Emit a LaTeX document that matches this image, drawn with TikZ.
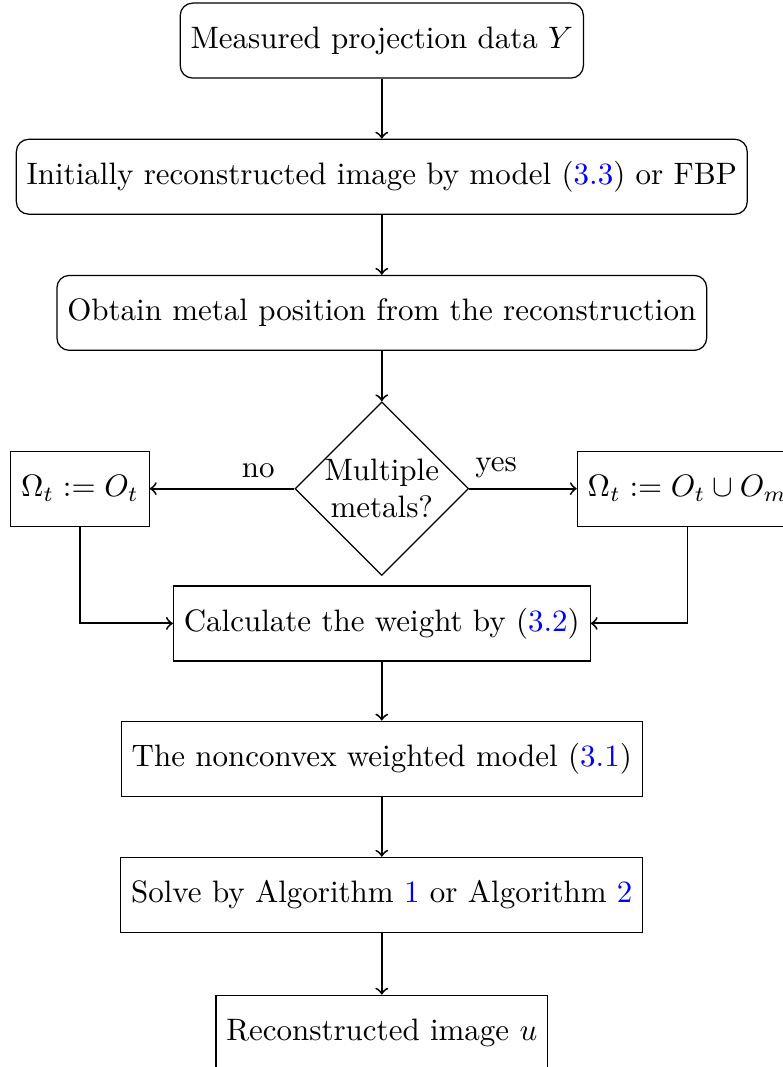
\documentclass[tikz,border=0pt]{standalone}
\usepackage{amsmath,amssymb}
\usepackage{color}
\usepackage{tikz}
\usetikzlibrary{shapes.geometric,positioning}

\begin{document}
\begin{tikzpicture}
	\tikzset{roundbox/.style={draw,thin,rectangle,rounded corners=4pt,minimum height=0.85cm}}
	\tikzset{sqbox/.style={draw,thin,rectangle,minimum height=0.85cm}}
	\tikzset{decision/.style={draw,thin,diamond,aspect=1,inner sep=0pt,align=center}}
	\tikzset{line/.style={draw,semithick,->}}
	% main column
	\node[roundbox] (measured) at (0,0) {Measured projection data $Y$};
	\node[roundbox,below=0.68cm of measured] (initial) {Initially reconstructed image by model (\textcolor{blue}{3.3}) or FBP};
	\node[roundbox,below=0.68cm of initial] (position) {Obtain metal position from the reconstruction};
	\node[decision,below=0.57cm of position] (multiple) {Multiple\\metals?};
	\node[sqbox,left=1.64cm of multiple] (omegaO) {$\Omega_t := O_t$};
	\node[sqbox,right=1.22cm of multiple] (omegaOm) {$\Omega_t := O_t\cup O_m$};
	\node[sqbox,below=0.105cm of multiple] (weight) {Calculate the weight by (\textcolor{blue}{3.2})};
	\node[sqbox,below=0.67cm of weight] (model) {The nonconvex weighted model (\textcolor{blue}{3.1})};
	\node[sqbox,below=0.68cm of model] (solve) {Solve by Algorithm \textcolor{blue}{1} or Algorithm \textcolor{blue}{2}};
	\node[sqbox,below=0.7cm of solve] (result) {Reconstructed image $u$};
	% connectors
	\path[line] (measured) -- (initial);
	\path[line] (initial) -- (position);
	\path[line] (position) -- (multiple);
	\path[line] (multiple.west) -- node[above,pos=0.25] {no} (omegaO.east);
	\path[line] (multiple.east) -- node[above,pos=0.25] {yes} (omegaOm.west);
	\path[line] (omegaO.south) |- (weight.west);
	\path[line] (omegaOm.south) |- (weight.east);
	\path[line] (weight) -- (model);
	\path[line] (model) -- (solve);
	\path[line] (solve) -- (result);
	%\draw[help lines] (-4,-12) grid (5,1);
	\pgfresetboundingbox
	\useasboundingbox (-123.2pt,13.1pt) rectangle (129.4pt,-331.2pt);
\end{tikzpicture}
\end{document}
